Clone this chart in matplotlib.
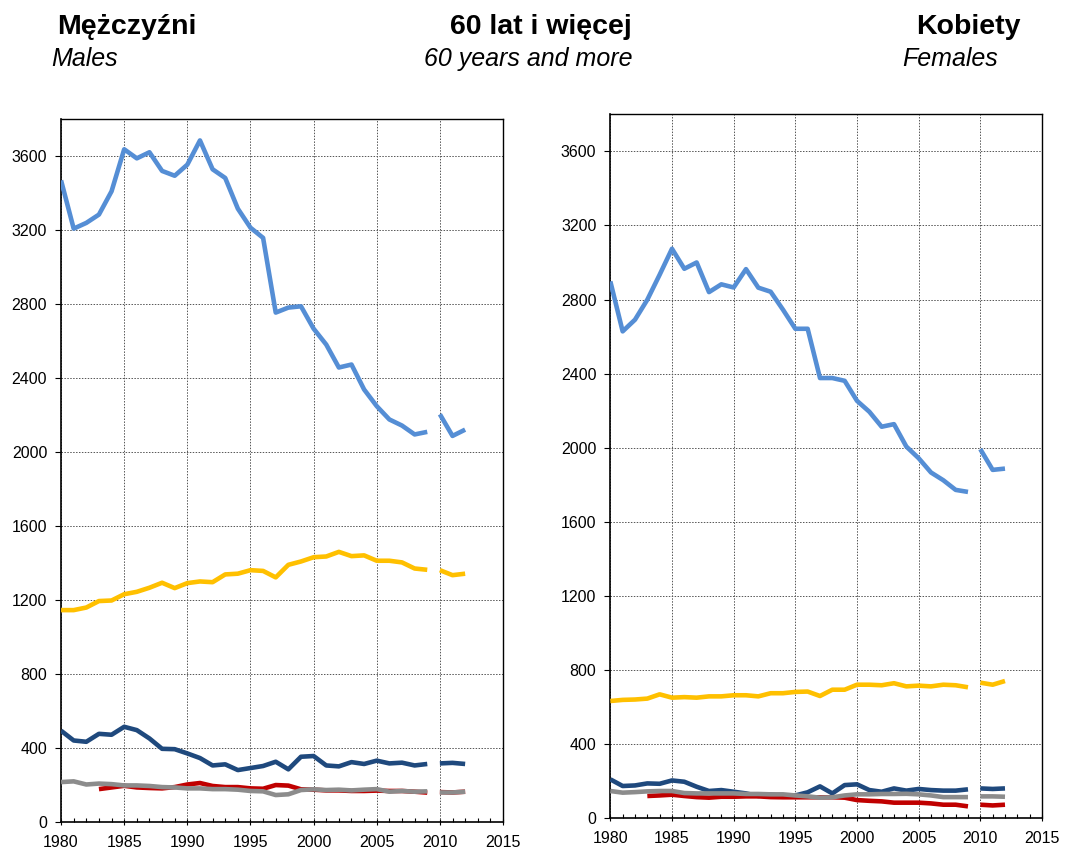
"""Zgony wg przyczyn, 60 lat i więcej – mężczyźni / kobiety."""
import matplotlib
import matplotlib.pyplot as plt
from matplotlib import font_manager
from matplotlib.ticker import MultipleLocator
import numpy as np

matplotlib.use("Agg")

# --- dane -------------------------------------------------------------
years = list(range(1980, 2013))
break_year = 2010  # przerwa w serii (2009 -> 2010)

males_light_blue = [3470, 3209, 3240, 3285, 3411, 3638, 3589, 3622, 3521, 3495,
                    3555, 3686, 3530, 3483, 3317, 3214, 3159, 2755, 2782, 2789,
                    2668, 2582, 2458, 2474, 2339, 2249, 2177, 2144, 2096, 2110,
                    2205, 2088, 2122]
males_yellow = [1146, 1146, 1160, 1195, 1198, 1232, 1245, 1267, 1294, 1265,
                1292, 1301, 1297, 1339, 1343, 1362, 1358, 1323, 1391, 1409,
                1432, 1436, 1461, 1438, 1442, 1413, 1413, 1404, 1371, 1364,
                1362, 1335, 1343]
males_dark_blue = [494, 441, 434, 477, 472, 515, 497, 452, 396, 394,
                   371, 346, 306, 312, 281, 292, 303, 326, 285, 353,
                   357, 306, 301, 324, 314, 332, 317, 321, 306, 314,
                   317, 320, 314]
males_red = [None, None, None, 178, 187, 196, 187, 184, 182, 189,
             203, 211, 195, 189, 189, 182, 180, 200, 197, 177,
             175, 171, 171, 168, 168, 170, 168, 168, 164, 159,
             162, 160, 164]
males_gray = [216, 220, 203, 208, 205, 198, 198, 195, 189, 187,
              182, 182, 178, 178, 175, 168, 166, 146, 150, 173,
              177, 173, 175, 171, 175, 178, 164, 168, 164, 166,
              160, 160, 164]

females_light_blue = [2898, 2628, 2691, 2799, 2934, 3074, 2966, 3000, 2840, 2882,
                      2865, 2964, 2864, 2842, 2745, 2642, 2642, 2376, 2376, 2361,
                      2253, 2194, 2113, 2127, 2006, 1943, 1866, 1824, 1772, 1761,
                      1992, 1880, 1887]
females_yellow = [632, 638, 640, 645, 668, 650, 653, 650, 657, 657,
                  663, 663, 657, 674, 674, 681, 683, 659, 693, 693,
                  720, 720, 717, 728, 711, 715, 711, 720, 717, 706,
                  731, 720, 740]
females_dark_blue = [209, 173, 176, 187, 185, 203, 196, 169, 146, 151,
                     142, 133, 119, 128, 117, 122, 139, 171, 133, 178,
                     182, 151, 142, 160, 148, 157, 151, 148, 148, 155,
                     160, 157, 160]
females_red = [None, None, None, 119, 122, 126, 119, 113, 110, 115,
               115, 117, 117, 113, 112, 112, 112, 112, 112, 110,
               97, 93, 90, 83, 83, 83, 79, 72, 72, 63,
               72, 68, 72]
females_gray = [146, 137, 140, 144, 146, 146, 135, 133, 133, 133,
                133, 130, 130, 128, 128, 122, 117, 110, 112, 122,
                128, 128, 130, 130, 131, 128, 122, 113, 113, 113,
                117, 117, 115]

x_ticks = list(range(1980, 2016, 5))
y_ticks = list(range(0, 3601, 400))

# --- styl ---------------------------------------------------------------
_COLORS = {
    "light_blue": "#558ED5",
    "yellow": "#FFC000",
    "dark_blue": "#1F497D",
    "red": "#C00000",
    "gray": "#8C8C8C",
}
_installed = {f.name for f in font_manager.fontManager.ttflist}
_TITLE_FONT = "Liberation Sans Narrow" if "Liberation Sans Narrow" in _installed else "Liberation Sans"
plt.rcParams["font.family"] = ["Liberation Sans", "DejaVu Sans"]


def _draw_series(ax, values, color):
    """Rysuje serię w dwóch odcinkach (przerwa między 2009 a 2010)."""
    yrs = np.array(years)
    vals = np.array([np.nan if v is None else v for v in values], dtype=float)
    for mask in (yrs < break_year, yrs >= break_year):
        ax.plot(yrs[mask], vals[mask], color=color, linewidth=3.3,
                solid_capstyle="butt", solid_joinstyle="round", zorder=3)


def _style_axes(ax):
    ax.set_xlim(1980, 2015)
    ax.set_ylim(0, 3800)
    ax.set_xticks(x_ticks)
    ax.set_yticks(y_ticks)
    ax.xaxis.set_minor_locator(MultipleLocator(1))
    ax.grid(True, which="major", linestyle=(0, (1.5, 1.5)), color="#555555",
            linewidth=0.7)
    ax.tick_params(axis="y", which="major", direction="out", length=4,
                   width=0.8, labelsize=11.5, pad=6)
    ax.tick_params(axis="x", which="major", direction="inout", length=5,
                   width=0.8, labelsize=11.5, pad=7)
    ax.tick_params(axis="x", which="minor", direction="in", length=3,
                   width=0.8)
    for side in ("left", "bottom"):
        ax.spines[side].set_linewidth(1.2)
    for side in ("top", "right"):
        ax.spines[side].set_linewidth(1.0)


fig = plt.figure(figsize=(10.73, 8.5), dpi=100)
ax_m = fig.add_axes([0.0569, 0.0329, 0.4119, 0.8267])
ax_f = fig.add_axes([0.5688, 0.0376, 0.4023, 0.8279])

for ax, series in (
    (ax_m, [("light_blue", males_light_blue), ("yellow", males_yellow),
            ("dark_blue", males_dark_blue), ("red", males_red),
            ("gray", males_gray)]),
    (ax_f, [("light_blue", females_light_blue), ("yellow", females_yellow),
            ("dark_blue", females_dark_blue), ("red", females_red),
            ("gray", females_gray)]),
):
    _style_axes(ax)
    for key, vals in series:
        _draw_series(ax, vals, _COLORS[key])

# --- nagłówki -----------------------------------------------------------
fig.text(0.0531, 0.968, "Mężczyźni", fontsize=20.5, fontweight="bold",
         family=_TITLE_FONT, ha="left", va="center")
fig.text(0.0475, 0.9306, "Males", fontsize=18, style="italic",
         family=_TITLE_FONT, ha="left", va="center")
fig.text(0.504, 0.968, "60 lat i więcej", fontsize=20.5, fontweight="bold",
         family=_TITLE_FONT, ha="center", va="center")
fig.text(0.492, 0.9306, "60 years and more", fontsize=18, style="italic",
         family=_TITLE_FONT, ha="center", va="center")
fig.text(0.9515, 0.968, "Kobiety", fontsize=20.5, fontweight="bold",
         family=_TITLE_FONT, ha="right", va="center")
fig.text(0.930, 0.9306, "Females", fontsize=18, style="italic",
         family=_TITLE_FONT, ha="right", va="center")

fig.savefig("out.png", dpi=100)
plt.close(fig)
